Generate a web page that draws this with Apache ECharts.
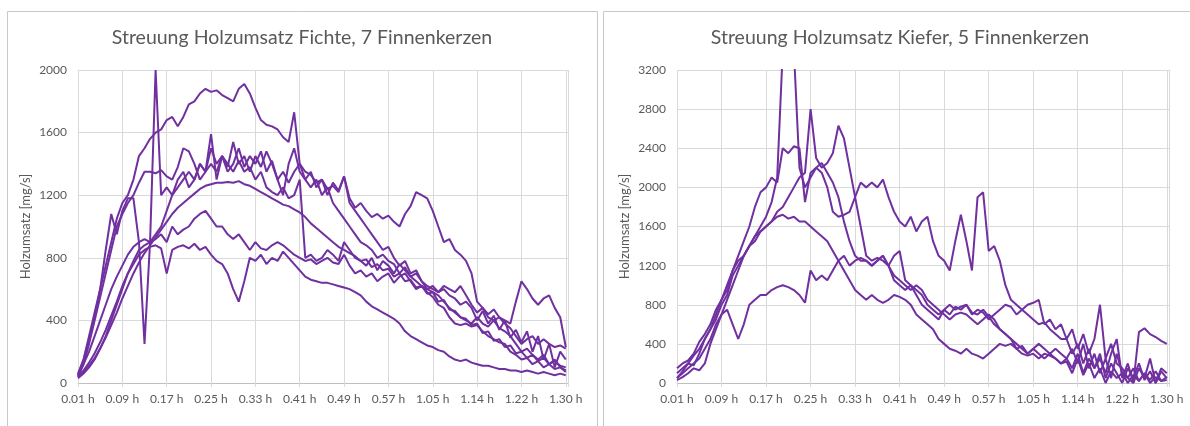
<!DOCTYPE html>
<html>
<head>
<meta charset="utf-8">
<script src="https://cdn.jsdelivr.net/npm/echarts@6/dist/echarts.min.js"></script>
<style>
html,body{margin:0;padding:0;background:#fff;}
#c{width:1190px;height:426px;}
</style>
</head>
<body>
<div id="c"></div>
<script>
// Tick labels of the time axis (one label every 8 samples, 1 sample per minute)
const tickLabels = ['0.01 h','0.09 h','0.17 h','0.25 h','0.33 h','0.41 h','0.49 h','0.57 h','1.05 h','1.14 h','1.22 h','1.30 h'];
const titleFichte = 'Streuung Holzumsatz Fichte, 7 Finnenkerzen';
const titleKiefer = 'Streuung Holzumsatz Kiefer, 5 Finnenkerzen';
const yName = 'Holzumsatz [mg/s]';

// Fichte (spruce), 7 candles, mg/s per minute sample
const fichte1 = [50,150,300,450,600,750,900,1050,1150,1200,
 1300,1450,1500,1560,1600,1620,1680,1700,1640,1700,
 1780,1800,1850,1880,1860,1870,1840,1820,1800,1880,
 1910,1850,1760,1680,1650,1640,1620,1570,1540,1730,
 1400,1350,1330,1280,1300,1240,1260,1220,1320,1180,
 1120,1150,1100,1060,1080,1050,1070,1030,1000,1080,
 1130,1220,1200,1180,1100,1000,900,920,850,820,
 780,700,520,480,440,470,420,400,380,520,
 650,600,540,500,540,560,480,420,230];
const fichte2 = [60,150,280,420,600,850,1080,950,1100,1180,
 1180,900,250,900,2000,1200,1250,1200,1300,1350,
 1250,1300,1400,1350,1590,1300,1450,1380,1540,1400,
 1450,1350,1450,1380,1480,1400,1300,1200,1400,1500,
 1350,1300,1250,1300,1200,1250,1150,1100,1050,1000,
 950,900,880,850,800,820,780,760,700,740,
 680,650,620,600,580,560,520,480,450,420,
 400,380,420,380,360,400,350,330,300,250,
 200,220,180,150,180,120,150,100,80];
const fichte3 = [40,120,250,400,550,700,850,1000,1080,1150,
 1200,1280,1350,1350,1340,1360,1320,1300,1380,1500,
 1480,1400,1300,1350,1400,1350,1450,1400,1350,1420,
 1350,1380,1300,1350,1250,1220,1200,1250,1180,1200,
 1300,800,820,780,800,850,820,780,900,850,
 800,780,750,800,720,780,750,700,760,720,
 680,700,650,620,600,580,620,600,580,620,
 560,500,450,480,420,400,420,380,350,300,
 250,280,300,250,280,250,230,240,220];
const fichte4 = [50,120,200,300,400,500,600,680,750,820,
 870,900,920,900,950,1000,1100,1200,1250,1300,
 1350,1300,1400,1350,1500,1400,1450,1350,1400,1500,
 1380,1450,1400,1480,1350,1420,1300,1350,1280,1350,
 1400,1300,1350,1250,1300,1200,1280,1230,1320,1150,
 1100,1050,1000,950,900,850,870,800,750,780,
 700,720,650,600,620,580,600,560,540,500,
 520,480,400,460,380,430,340,400,290,340,
 260,330,200,300,150,250,100,200,150];
const fichte5 = [40,70,110,160,220,290,370,450,540,620,
 700,770,830,880,930,980,1030,1080,1120,1150,
 1180,1210,1240,1260,1270,1280,1280,1285,1280,1290,
 1270,1260,1240,1220,1200,1180,1160,1140,1130,1110,
 1090,1060,1020,990,960,930,900,870,850,830,
 810,780,790,740,760,720,730,680,700,650,
 660,610,620,570,580,520,530,470,460,420,
 410,370,380,320,330,270,280,230,240,190,
 200,160,180,140,160,120,140,110,100];
const fichte6 = [30,60,100,150,220,300,400,500,600,700,
 780,850,880,900,920,950,900,1000,950,980,
 1000,1050,1080,1100,1050,1000,1000,950,920,950,
 900,850,900,860,850,880,900,880,850,820,
 800,780,790,760,780,800,770,760,820,750,
 700,720,680,700,650,680,700,640,680,700,
 650,600,620,580,550,500,480,420,380,370,
 380,360,370,330,300,280,260,250,200,180,
 150,160,120,140,100,120,90,100,70];
const fichte7 = [40,80,130,190,260,340,430,520,620,700,
 760,820,850,870,880,860,700,850,870,880,
 860,890,850,870,820,780,760,700,600,520,
 650,800,780,820,760,800,780,840,800,760,
 720,680,660,650,640,640,630,620,610,600,
 580,560,520,490,470,450,430,410,380,330,
 300,280,260,240,230,210,200,170,150,140,
 150,130,120,110,110,100,90,90,80,80,
 70,80,70,60,70,60,50,60,50];

// Kiefer (pine), 5 candles
const kiefer1 = [150,200,230,300,420,500,600,750,850,1000,
 1150,1300,1450,1600,1800,1950,2000,2100,2050,2400,
 2350,2420,2400,1850,2150,2200,2250,2150,2050,1900,
 1650,1450,1300,1250,1250,1200,1250,1300,1200,1100,
 1050,1000,950,1000,950,850,800,750,700,650,
 700,720,700,650,600,650,700,650,550,500,
 450,400,350,300,350,300,250,300,250,200,
 250,150,300,100,250,150,300,50,200,100,
 0,150,50,200,30,120,0,150,100];
const kiefer2 = [50,100,150,200,250,350,450,600,700,850,
 1000,1150,1300,1400,1500,1600,1700,1850,2100,3400,
 3600,3400,2200,2000,2100,2200,2150,2000,1750,1700,
 1720,1750,1900,2050,2000,2050,2000,2080,1900,1750,
 1650,1600,1700,1550,1650,1700,1450,1300,1250,1150,
 1450,1720,1450,1150,1900,1950,1350,1400,1250,1000,
 850,800,750,700,650,600,620,550,500,450,
 450,300,400,200,350,150,250,100,300,450,
 50,200,0,150,50,250,0,120,50];
const kiefer3 = [100,150,200,180,300,450,550,650,800,900,
 1100,1200,1300,1400,1450,1550,1600,1650,1750,1800,
 1900,2000,2100,2150,2800,2300,2200,2250,2350,2630,
 2500,2200,1900,1600,1300,1250,1280,1250,1200,1300,
 1350,1050,1000,950,900,800,750,700,750,700,
 780,750,800,720,700,750,680,600,550,500,
 450,350,300,280,300,250,300,280,250,200,
 220,100,250,80,200,50,150,0,120,50,
 100,0,80,20,100,0,60,20,30];
const kiefer4 = [50,120,200,280,350,450,550,700,850,950,
 1150,1250,1300,1400,1500,1550,1600,1650,1700,1720,
 1680,1700,1650,1650,1600,1550,1500,1450,1350,1250,
 1150,1050,950,900,850,900,850,820,850,900,
 880,850,800,700,650,600,550,450,400,350,
 330,300,350,300,280,250,300,350,400,380,
 400,350,380,300,350,400,350,300,350,300,
 250,350,200,400,150,300,100,250,50,300,
 100,50,150,20,100,30,120,20,60];
const kiefer5 = [30,60,100,150,130,200,400,550,700,750,
 600,450,600,800,850,900,900,950,980,1000,
 980,950,900,820,1150,1050,1100,1050,1150,1250,
 1300,1200,1250,1280,1250,1200,1250,1300,1200,1050,
 1000,950,1000,900,800,750,700,650,750,800,
 750,780,800,700,750,720,650,700,750,800,
 780,700,750,800,820,850,600,650,550,600,
 450,550,350,500,300,450,800,250,400,200,
 150,50,0,520,560,500,470,430,400];

const fichteSeries = [fichte1, fichte2, fichte3, fichte4, fichte5, fichte6, fichte7];
const kieferSeries = [kiefer1, kiefer2, kiefer3, kiefer4, kiefer5];

const purple = '#7030a0';
const txt = '#595959';
const gridCol = '#d9d9d9';
const font = 'Lato, "Open Sans", sans-serif';

function lineSeries(vals, idx) {
  return {
    type: 'line', xAxisIndex: idx, yAxisIndex: idx,
    data: vals.map((v, i) => [i, v]),
    showSymbol: false, symbol: 'none', clip: true, silent: true,
    lineStyle: { width: 2, color: purple }, itemStyle: { color: purple },
    animation: false
  };
}
function xAx(idx) {
  return {
    type: 'value', gridIndex: idx, min: 0, max: 88.4, interval: 8,
    axisLine: { show: true, lineStyle: { color: '#bfbfbf' } },
    axisTick: { show: true, length: 4, lineStyle: { color: gridCol } },
    axisLabel: {
      color: txt, fontSize: 12, fontFamily: font, margin: 10,
      formatter: v => (v % 8 === 0 && v / 8 < tickLabels.length) ? tickLabels[v / 8] : ''
    },
    splitLine: { show: true, lineStyle: { color: gridCol } }
  };
}
function yAx(idx, max) {
  return {
    type: 'value', gridIndex: idx, min: 0, max: max, interval: 400,
    name: yName, nameLocation: 'middle', nameGap: 46,
    nameTextStyle: { color: txt, fontSize: 13, fontFamily: font },
    axisLine: { show: false }, axisTick: { show: false },
    axisLabel: { color: txt, fontSize: 12, fontFamily: font, margin: 11, formatter: v => String(v) },
    splitLine: { show: true, lineStyle: { color: gridCol } }
  };
}

const chart = echarts.init(document.getElementById('c'), null, { renderer: 'canvas' });
chart.setOption({
  animation: false,
  backgroundColor: '#fff',
  title: [
    { text: titleFichte, left: 302, top: 28, textAlign: 'center', padding: 0,
      textStyle: { color: txt, fontSize: 19.5, fontWeight: 'normal', fontFamily: font } },
    { text: titleKiefer, left: 900, top: 28, textAlign: 'center', padding: 0,
      textStyle: { color: txt, fontSize: 19.5, fontWeight: 'normal', fontFamily: font } }
  ],
  graphic: [
    { type: 'rect', shape: { x: 7.5, y: 11.5, width: 590, height: 430 },
      style: { fill: 'none', stroke: '#c8c8c8', lineWidth: 1 }, silent: true, z: -1 },
    { type: 'rect', shape: { x: 603.5, y: 11.5, width: 610, height: 430 },
      style: { fill: 'none', stroke: '#c8c8c8', lineWidth: 1 }, silent: true, z: -1 }
  ],
  grid: [
    { left: 78, top: 70, width: 490, height: 313 },
    { left: 677, top: 70, width: 492, height: 313 }
  ],
  xAxis: [xAx(0), xAx(1)],
  yAxis: [yAx(0, 2000), yAx(1, 3200)],
  series: fichteSeries.map(s => lineSeries(s, 0)).concat(kieferSeries.map(s => lineSeries(s, 1)))
});
</script>
</body>
</html>
